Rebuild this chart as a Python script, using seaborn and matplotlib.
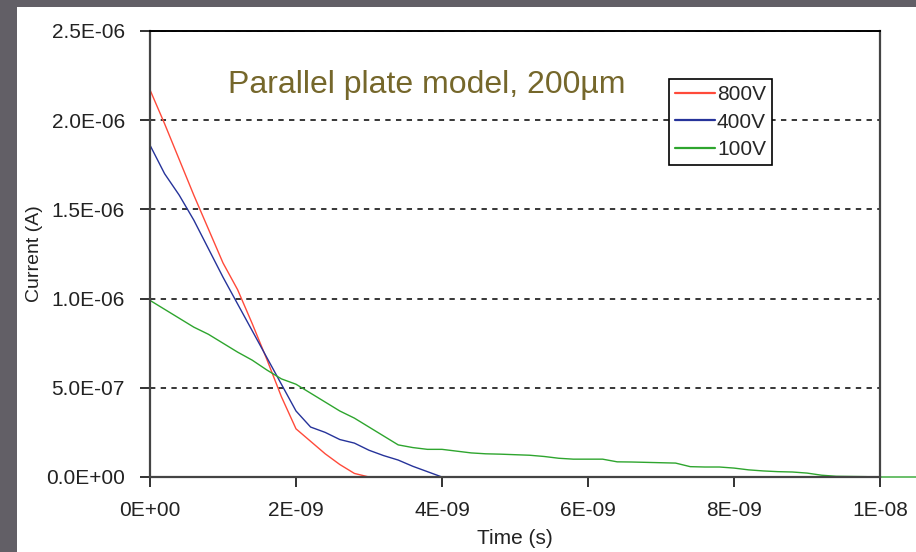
import numpy as np
import pandas as pd
import matplotlib
matplotlib.use("Agg")
import matplotlib.pyplot as plt
from matplotlib.patches import Rectangle
import seaborn as sns

# Data (time in ns, current in uA)
t_800 = [0, 0.2, 0.4, 0.6, 0.8, 1.0, 1.2, 1.4, 1.6, 1.8, 2.0, 2.2, 2.4, 2.6, 2.8, 3.0, 10.0]
i_800 = [2.17, 1.98, 1.78, 1.58, 1.39, 1.20, 1.05, 0.86, 0.66, 0.45, 0.27, 0.20, 0.13, 0.07, 0.02, 0.0, 0.0]

t_400 = [0, 0.2, 0.4, 0.6, 0.8, 1.0, 1.2, 1.4, 1.6, 1.8, 2.0, 2.2, 2.4, 2.6, 2.8, 3.0,
         3.2, 3.4, 3.6, 3.8, 4.0, 10.0]
i_400 = [1.86, 1.70, 1.58, 1.44, 1.28, 1.12, 0.97, 0.82, 0.67, 0.52, 0.37, 0.28, 0.25, 0.21, 0.19, 0.15,
         0.12, 0.095, 0.06, 0.03, 0.0, 0.0]

t_100 = [0, 0.2, 0.4, 0.6, 0.8, 1.0, 1.2, 1.4, 1.6, 1.8, 2.0, 2.2, 2.4, 2.6, 2.8, 3.0,
         3.2, 3.4, 3.6, 3.8, 4.0, 4.2, 4.4, 4.6, 4.8, 5.0, 5.2, 5.4, 5.6, 5.8, 6.0,
         6.2, 6.4, 6.6, 6.8, 7.0, 7.2, 7.4, 7.6, 7.8, 8.0, 8.2, 8.4, 8.6, 8.8, 9.0,
         9.2, 9.4, 9.6, 9.8, 10.0, 11.0]
i_100 = [0.99, 0.94, 0.89, 0.84, 0.80, 0.75, 0.70, 0.655, 0.60, 0.55, 0.52, 0.47, 0.42, 0.37, 0.33, 0.28,
         0.23, 0.18, 0.165, 0.155, 0.155, 0.145, 0.135, 0.13, 0.128, 0.125, 0.122, 0.115, 0.105, 0.10, 0.10,
         0.10, 0.085, 0.084, 0.082, 0.08, 0.078, 0.058, 0.056, 0.056, 0.05, 0.04, 0.034, 0.03, 0.028, 0.022,
         0.01, 0.004, 0.003, 0.002, 0.0, 0.0]

voltages = ["800V", "400V", "100V"]
colors = {"800V": "#ff4a3a", "400V": "#26339a", "100V": "#2ea52e"}

x_ticks = [0, 2e-9, 4e-9, 6e-9, 8e-9, 1e-8]
x_labels = ["0E+00", "2E-09", "4E-09", "6E-09", "8E-09", "1E-08"]
y_ticks = [0, 5e-7, 1e-6, 1.5e-6, 2e-6, 2.5e-6]
y_labels = ["0.0E+00", "5.0E-07", "1.0E-06", "1.5E-06", "2.0E-06", "2.5E-06"]

title = "Parallel plate model, 200\u00b5m"

# long-form frame for seaborn
frames = []
for v, t, i in zip(voltages, [t_800, t_400, t_100], [i_800, i_400, i_100]):
    frames.append(pd.DataFrame({"time": np.array(t) * 1e-9,
                                "current": np.array(i) * 1e-6,
                                "voltage": v}))
df = pd.concat(frames, ignore_index=True)

sns.set_style("white")
plt.rcParams["font.family"] = ["Liberation Sans", "DejaVu Sans"]

fig = plt.figure(figsize=(9.16, 5.52), dpi=100, facecolor="#625f66")
# white slide panel behind the chart
fig.patches.append(Rectangle((17 / 916, 0), 1, 1 - 7 / 552, transform=fig.transFigure,
                             facecolor="white", edgecolor="none", zorder=-10))
ax = fig.add_axes([150 / 916, 1 - 477 / 552, 730 / 916, 446 / 552])
ax.set_zorder(1)
ax.set_facecolor("white")

sns.lineplot(data=df, x="time", y="current", hue="voltage", hue_order=voltages,
             palette=colors, estimator=None, sort=False, lw=1.0, ax=ax)
for line in ax.get_lines():
    line.set_clip_on(False)

ax.set_xlim(0, 1e-8)
ax.set_ylim(0, 2.5e-6)
ax.set_xticks(x_ticks)
ax.set_xticklabels(x_labels)
ax.set_yticks(y_ticks)
ax.set_yticklabels(y_labels)
ax.tick_params(axis="both", labelsize=15, colors="#222222", length=7, width=1.3, direction="out")
ax.tick_params(axis="x", pad=10)
ax.tick_params(axis="y", pad=11)
ax.xaxis.set_ticks_position("bottom")
ax.yaxis.set_ticks_position("left")

ax.yaxis.grid(True, linestyle=(0, (3.5, 3.5)), color="black", lw=1.1)
ax.set_axisbelow(True)

for side in ["left", "bottom", "right"]:
    ax.spines[side].set_color("#444444")
    ax.spines[side].set_linewidth(1.6)
ax.spines["top"].set_color("black")
ax.spines["top"].set_linewidth(1.4)

ax.set_xlabel("Time (s)", fontsize=15, color="#222222", labelpad=7)
ax.set_ylabel("Current (A)", fontsize=14, color="#222222", labelpad=2)

ax.text(0.107, 0.880, title, transform=ax.transAxes, fontsize=23, color="#75672b",
        ha="left", va="center")

leg = ax.legend(loc="upper left", bbox_to_anchor=(0.711, 0.892), borderaxespad=0,
                fontsize=15, frameon=True, fancybox=False, framealpha=1,
                edgecolor="black", handlelength=1.9, handletextpad=0.1,
                borderpad=0.3, labelspacing=0.4)
leg.get_frame().set_linewidth(1.2)
for h in leg.get_lines():
    h.set_linewidth(1.6)

fig.savefig("out.png", dpi=100, facecolor=fig.get_facecolor())
